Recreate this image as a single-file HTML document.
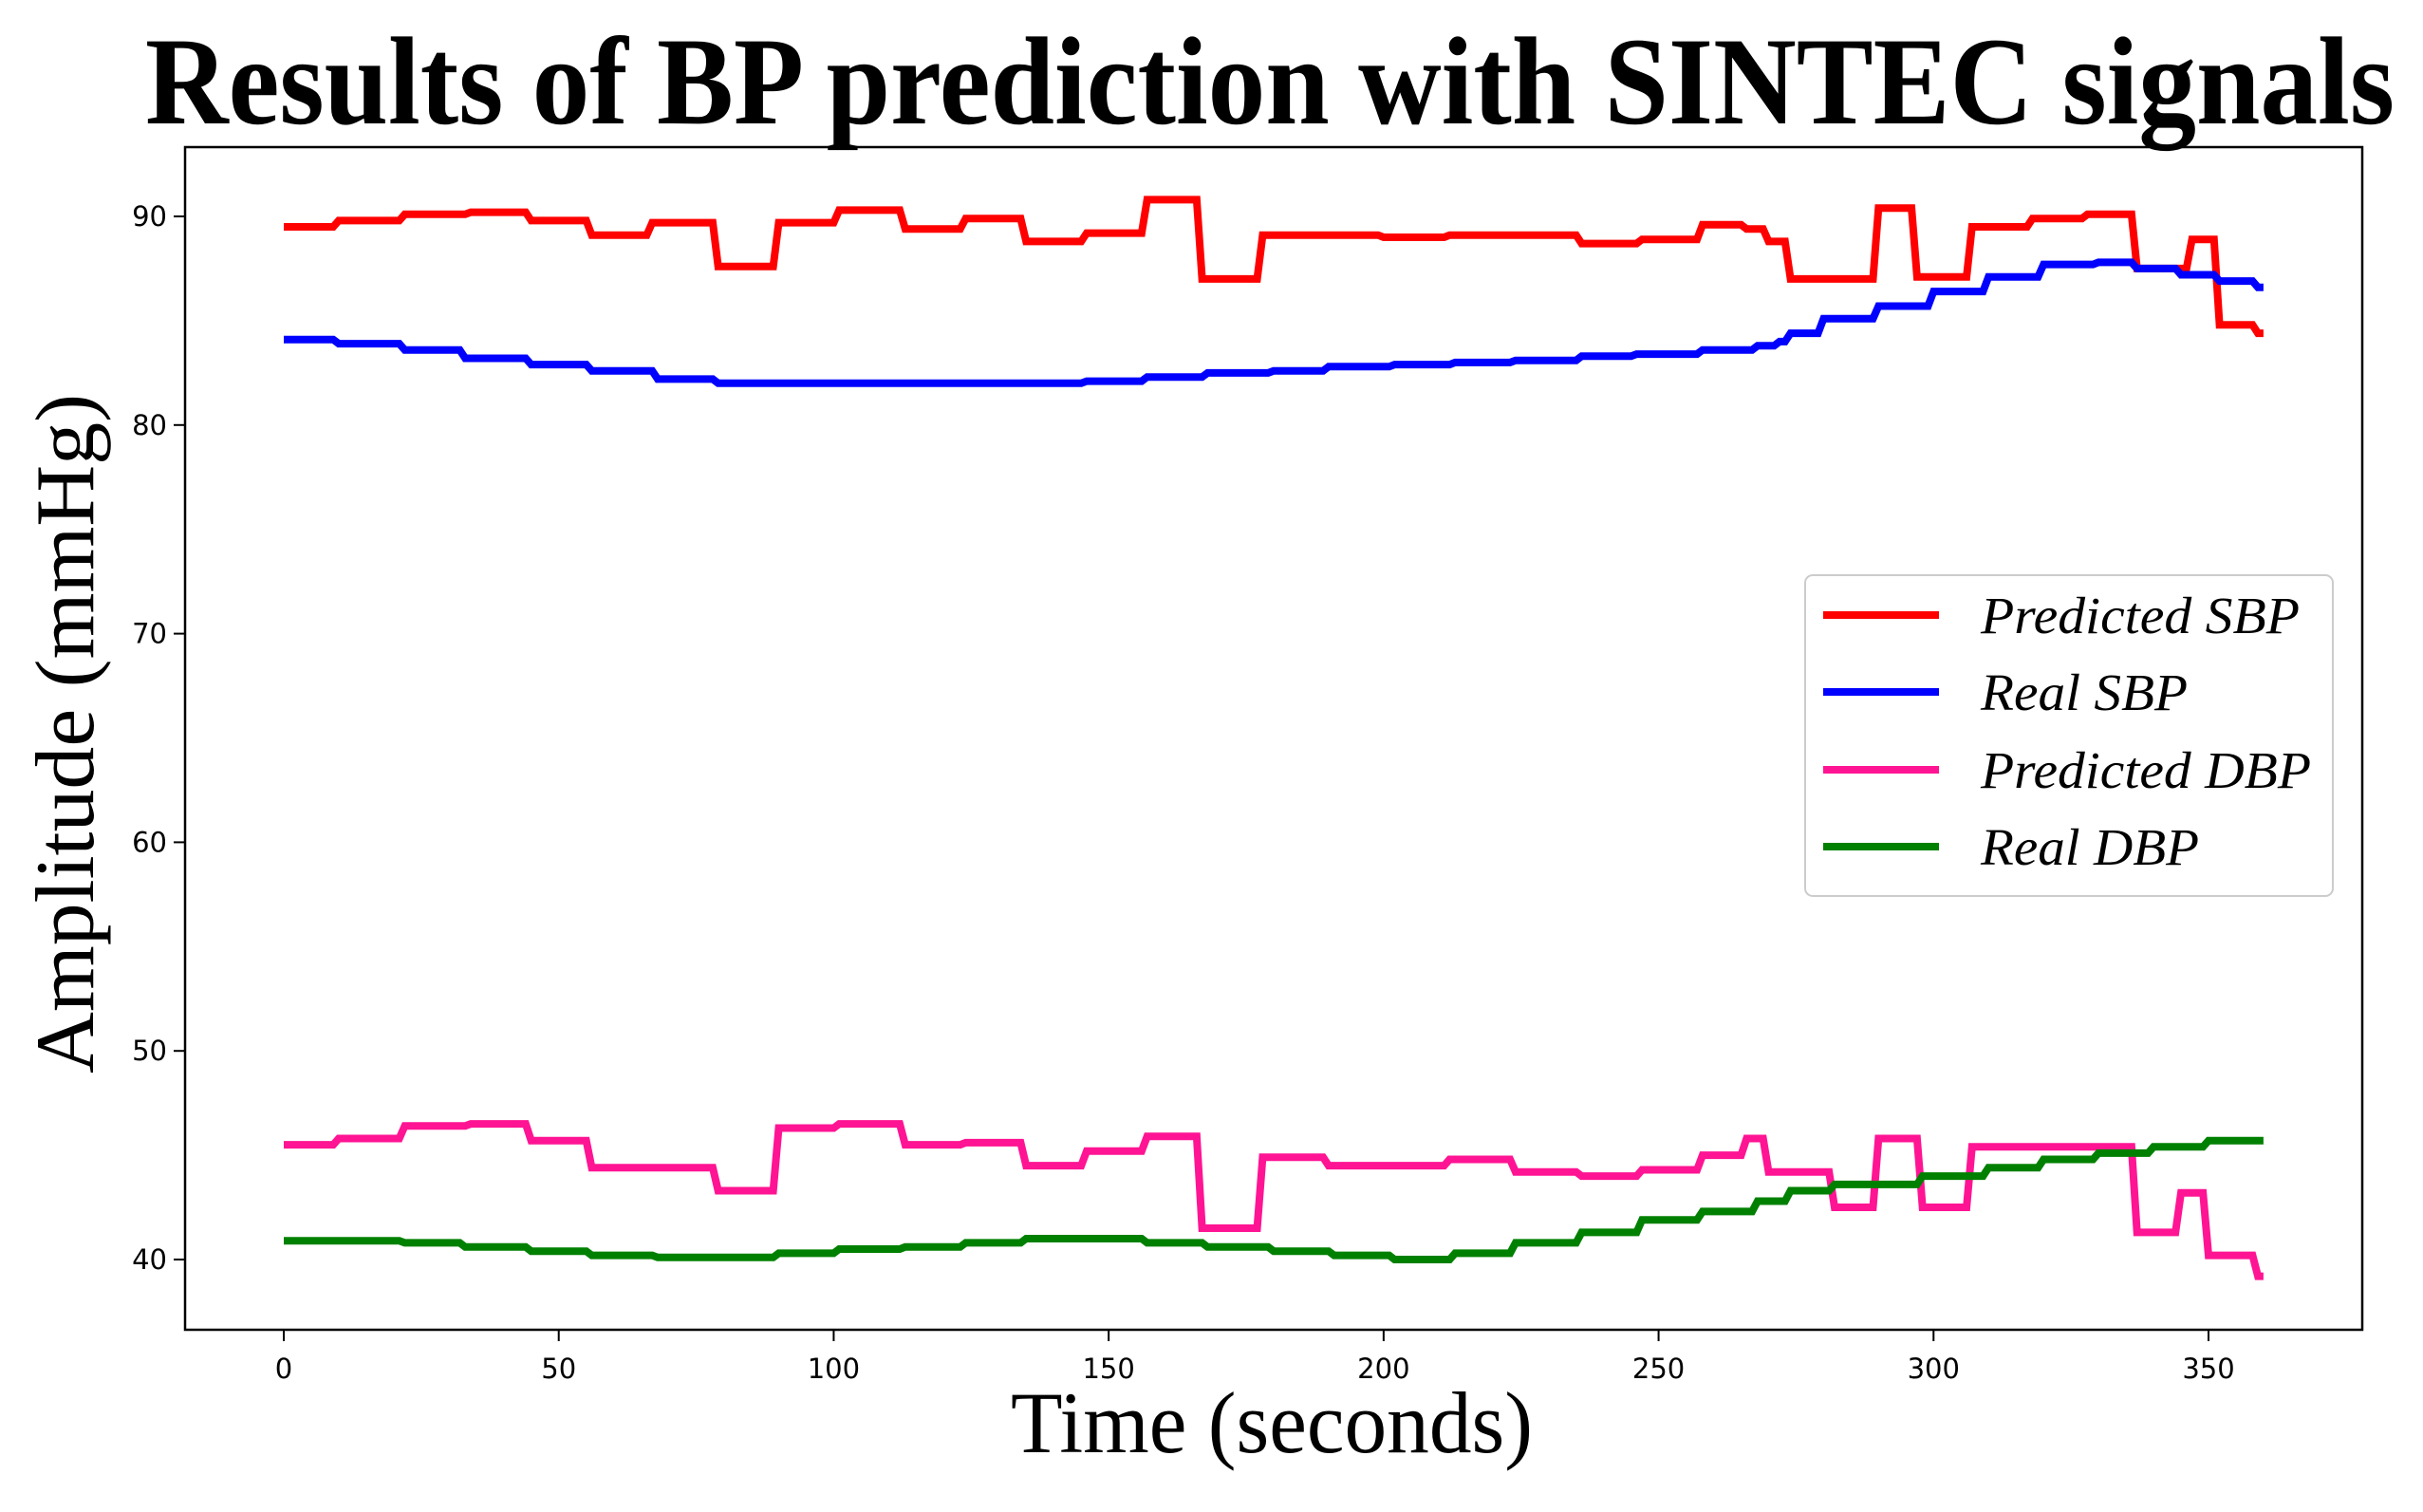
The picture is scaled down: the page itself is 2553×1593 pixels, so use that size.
<!DOCTYPE html>
<html><head><meta charset="utf-8"><style>
html,body{margin:0;padding:0;background:#fff}
svg{display:block}
</style></head><body>
<svg id="chart" width="2553" height="1593" viewBox="0 0 2553 1593" xmlns="http://www.w3.org/2000/svg">
<rect x="0" y="0" width="2553" height="1593" fill="#fff"/>
<text x="1338" y="130" text-anchor="middle" font-family="Liberation Serif, serif" font-weight="bold" font-size="132" textLength="2370" lengthAdjust="spacingAndGlyphs">Results of BP prediction with SINTEC signals</text>
<g id="plot"></g>
<rect x="195" y="155" width="2294" height="1246" fill="none" stroke="#000" stroke-width="2.5"/>
<g id="axes"></g>
<text x="1340" y="1530" text-anchor="middle" font-family="Liberation Serif, serif" font-size="92" textLength="550" lengthAdjust="spacingAndGlyphs">Time (seconds)</text>
<text transform="translate(98,773) rotate(-90)" text-anchor="middle" font-family="Liberation Serif, serif" font-size="88" textLength="716" lengthAdjust="spacingAndGlyphs">Amplitude (mmHg)</text>
<g>
<rect x="1902" y="606" width="556" height="338" rx="8" fill="#fff" stroke="#ccc" stroke-width="2"/>
<line x1="1921" y1="648" x2="2043" y2="648" stroke="#ff0000" stroke-width="8"/>
<text x="2087" y="667" font-family="Liberation Serif, serif" font-style="italic" font-size="55" textLength="336" lengthAdjust="spacingAndGlyphs">Predicted SBP</text>
<line x1="1921" y1="729" x2="2043" y2="729" stroke="#0000ff" stroke-width="8"/>
<text x="2087" y="748" font-family="Liberation Serif, serif" font-style="italic" font-size="55" textLength="218" lengthAdjust="spacingAndGlyphs">Real SBP</text>
<line x1="1921" y1="811" x2="2043" y2="811" stroke="#ff1493" stroke-width="8"/>
<text x="2087" y="830" font-family="Liberation Serif, serif" font-style="italic" font-size="55" textLength="348" lengthAdjust="spacingAndGlyphs">Predicted DBP</text>
<line x1="1921" y1="892" x2="2043" y2="892" stroke="#008000" stroke-width="8"/>
<text x="2087" y="911" font-family="Liberation Serif, serif" font-style="italic" font-size="55" textLength="230" lengthAdjust="spacingAndGlyphs">Real DBP</text>
</g>
</svg>
<script>
const xTicks = [0, 50, 100, 150, 200, 250, 300, 350];
const yTicks = [40, 50, 60, 70, 80, 90];
const predSbpT = [0,10,22,34,45,56,67,79,90,101,113,124,135,146,157,167,178,200,212,236,247,258,266,270,274,280,290,297,307,318,328,337,347,352,359];
const predSbpV = [89.5,89.8,90.1,90.2,89.8,89.1,89.7,87.6,89.7,90.3,89.4,89.9,88.8,89.2,90.8,87.0,89.1,89.0,89.1,88.7,88.9,89.6,89.4,88.8,87.0,87.0,90.4,87.1,89.5,89.9,90.1,87.5,88.9,84.8,84.4];
const realSbpT = [0,10,22,33,45,56,68,79,146,157,168,180,190,202,213,224,236,246,258,268,272,274,280,290,300,310,320,330,337,345,352,359];
const realSbpV = [84.1,83.9,83.6,83.2,82.9,82.6,82.2,82.0,82.1,82.3,82.5,82.6,82.8,82.9,83.0,83.1,83.3,83.4,83.6,83.8,84.0,84.4,85.1,85.7,86.4,87.1,87.7,87.8,87.5,87.2,86.9,86.6];
const predDbpT = [0,10,22,34,45,56,79,90,101,113,124,135,146,157,167,178,190,212,224,236,247,258,266,270,274,282,290,298,307,337,345,350,359];
const predDbpV = [45.5,45.8,46.4,46.5,45.7,44.4,43.3,46.3,46.5,45.5,45.6,44.5,45.2,45.9,41.5,44.9,44.5,44.8,44.2,44.0,44.3,45.0,45.8,44.2,44.2,42.5,45.8,42.5,45.4,41.3,43.2,40.2,39.2];
const realDbpT = [0,22,33,45,56,68,90,101,113,124,135,157,168,180,191,202,213,224,236,247,258,268,274,282,298,310,320,330,340,350,359];
const realDbpV = [40.9,40.8,40.6,40.4,40.2,40.1,40.3,40.5,40.6,40.8,41.0,40.8,40.6,40.4,40.2,40.0,40.3,40.8,41.3,41.9,42.3,42.8,43.3,43.6,44.0,44.4,44.8,45.1,45.4,45.7,45.7];
const tEnd = 360;

const NS = 'http://www.w3.org/2000/svg';
function xS(t){ return 299 + t * (2327 - 299) / 350; }
function yS(v){ return 228 + (90 - v) * 21.98; }

const axes = document.getElementById('axes');
const plot = document.getElementById('plot');

xTicks.forEach(function(t){
  const l = document.createElementNS(NS,'line');
  l.setAttribute('x1', xS(t)); l.setAttribute('x2', xS(t));
  l.setAttribute('y1', 1401); l.setAttribute('y2', 1413);
  l.setAttribute('stroke','#000'); l.setAttribute('stroke-width','2');
  
  
  axes.appendChild(l);
  const tx = document.createElementNS(NS,'text');
  tx.setAttribute('x', xS(t)); tx.setAttribute('y', 1452);
  tx.setAttribute('text-anchor','middle');
  tx.setAttribute('font-family','DejaVu Sans, sans-serif');
  tx.setAttribute('font-size','29');
  tx.textContent = t;
  
  
  axes.appendChild(tx);
});
yTicks.forEach(function(v){
  const l = document.createElementNS(NS,'line');
  l.setAttribute('x1', 183); l.setAttribute('x2', 195);
  l.setAttribute('y1', yS(v)); l.setAttribute('y2', yS(v));
  l.setAttribute('stroke','#000'); l.setAttribute('stroke-width','2');
  
  
  axes.appendChild(l);
  const tx = document.createElementNS(NS,'text');
  tx.setAttribute('x', 176); tx.setAttribute('y', yS(v) + 10);
  tx.setAttribute('text-anchor','end');
  tx.setAttribute('font-family','DejaVu Sans, sans-serif');
  tx.setAttribute('font-size','29');
  tx.textContent = v;
  
  
  axes.appendChild(tx);
});

function stepPoints(ts, vs){
  const pts = [];
  for (let i = 0; i < ts.length; i++) {
    const t0 = ts[i];
    const t1 = (i + 1 < ts.length) ? ts[i+1] - 1 : tEnd;
    pts.push(xS(t0).toFixed(1) + ',' + yS(vs[i]).toFixed(1));
    if (t1 > t0) pts.push(xS(t1).toFixed(1) + ',' + yS(vs[i]).toFixed(1));
  }
  return pts.join(' ');
}
function drawSeries(ts, vs, color, name){
  const p = document.createElementNS(NS,'polyline');
  p.setAttribute('points', stepPoints(ts, vs));
  p.setAttribute('fill','none');
  p.setAttribute('stroke', color);
  p.setAttribute('stroke-width','8');
  p.setAttribute('stroke-linejoin','miter');
  
  
  plot.appendChild(p);
}
drawSeries(predSbpT, predSbpV, '#ff0000', 'predicted-sbp-line');
drawSeries(realSbpT, realSbpV, '#0000ff', 'real-sbp-line');
drawSeries(predDbpT, predDbpV, '#ff1493', 'predicted-dbp-line');
drawSeries(realDbpT, realDbpV, '#008000', 'real-dbp-line');
</script>
</body></html>
